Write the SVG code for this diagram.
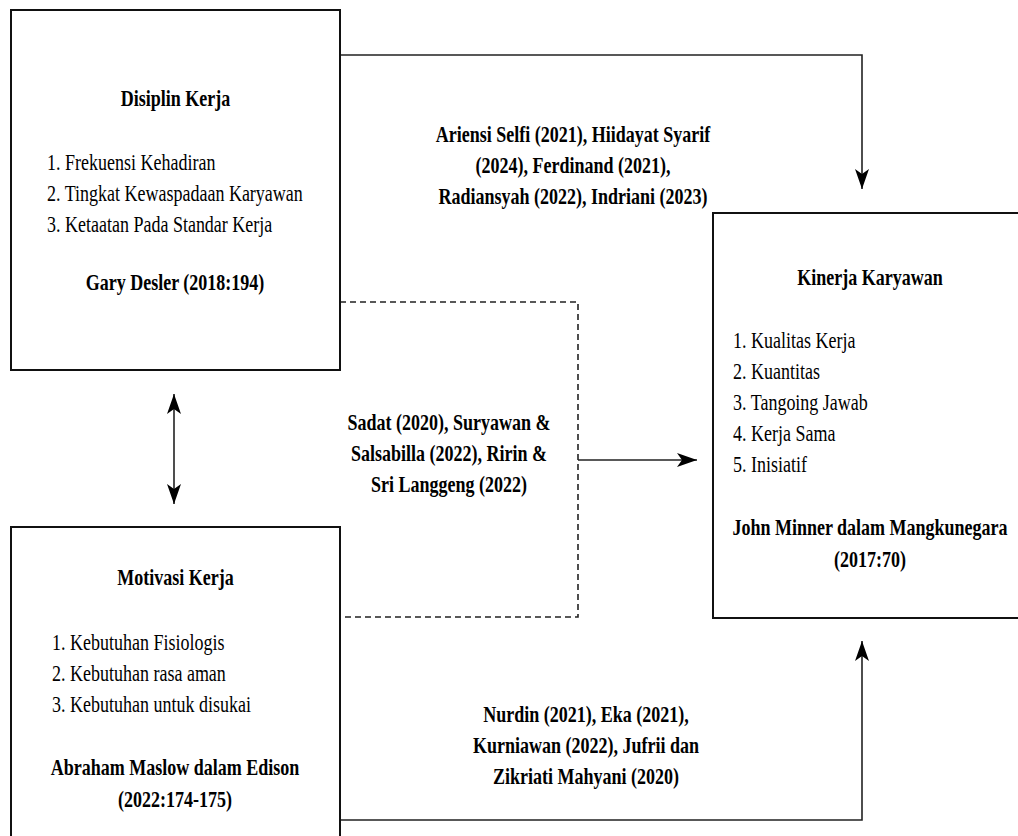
<svg xmlns="http://www.w3.org/2000/svg" width="1018" height="836" viewBox="0 0 1018 836">
  <style>
    .box { fill: #ffffff; stroke: #111111; stroke-width: 2; }
    .conn { fill: none; stroke: #222222; stroke-width: 1.6; }
    .dash { fill: none; stroke: #222222; stroke-width: 1.6; stroke-dasharray: 6 4; }
    text { font-family: "Liberation Serif", "Times New Roman", serif; font-size: 24px; fill: #000000; }
    .b { font-weight: bold; }
    .c { text-anchor: middle; }
  </style>
  <defs>
    <marker id="arr" markerUnits="userSpaceOnUse" markerWidth="24" markerHeight="18" viewBox="-22 -9 24 18" refX="0" refY="0" orient="auto-start-reverse">
      <path d="M 0 0 L -20 -7 L -15 0 L -20 7 Z" fill="#000000"/>
    </marker>
  </defs>
  <rect width="1018" height="836" fill="#ffffff"/>

  <g id="connectors">
    <path class="conn" d="M 340 55 H 862 V 189" marker-end="url(#arr)"/>
    <path class="conn" d="M 340 820 H 862 V 641" marker-end="url(#arr)"/>
    <path class="dash" d="M 340 302 H 578 V 617 H 340"/>
    <path class="conn" d="M 578 460 H 697" marker-end="url(#arr)"/>
    <path class="conn" d="M 174 394 V 504" marker-start="url(#arr)" marker-end="url(#arr)"/>
    <text class="b c" transform="translate(573,0) scale(0.75,1)"><tspan x="0" y="142">Ariensi Selfi (2021), Hiidayat Syarif</tspan><tspan x="0" y="173">(2024), Ferdinand (2021),</tspan><tspan x="0" y="204">Radiansyah (2022), Indriani (2023)</tspan></text>
    <text class="b c" transform="translate(449,0) scale(0.75,1)"><tspan x="0" y="430">Sadat (2020), Suryawan &amp;</tspan><tspan x="0" y="461">Salsabilla (2022), Ririn &amp;</tspan><tspan x="0" y="492">Sri Langgeng (2022)</tspan></text>
    <text class="b c" transform="translate(586,0) scale(0.75,1)"><tspan x="0" y="722">Nurdin (2021), Eka (2021),</tspan><tspan x="0" y="753">Kurniawan (2022), Jufrii dan</tspan><tspan x="0" y="784">Zikriati Mahyani (2020)</tspan></text>
  </g>

  <g id="disiplin-kerja">
    <rect class="box" x="11" y="10" width="329" height="360"/>
    <text class="b c" transform="translate(175.5,0) scale(0.75,1)"><tspan x="0" y="106">Disiplin Kerja</tspan></text>
    <text transform="translate(47,0) scale(0.75,1)"><tspan x="0" y="170">1. Frekuensi Kehadiran</tspan><tspan x="0" y="201">2. Tingkat Kewaspadaan Karyawan</tspan><tspan x="0" y="232">3. Ketaatan Pada Standar Kerja</tspan></text>
    <text class="b c" transform="translate(175,0) scale(0.75,1)"><tspan x="0" y="290">Gary Desler (2018:194)</tspan></text>
  </g>

  <g id="motivasi-kerja">
    <rect class="box" x="11" y="527" width="329" height="330"/>
    <text class="b c" transform="translate(175.5,0) scale(0.75,1)"><tspan x="0" y="585">Motivasi Kerja</tspan></text>
    <text transform="translate(52,0) scale(0.75,1)"><tspan x="0" y="650">1. Kebutuhan Fisiologis</tspan><tspan x="0" y="681">2. Kebutuhan rasa aman</tspan><tspan x="0" y="712">3. Kebutuhan untuk disukai</tspan></text>
    <text class="b c" transform="translate(175,0) scale(0.75,1)"><tspan x="0" y="775">Abraham Maslow dalam Edison</tspan><tspan x="0" y="807">(2022:174-175)</tspan></text>
  </g>

  <g id="kinerja-karyawan">
    <rect class="box" x="713" y="213" width="330" height="405"/>
    <text class="b c" transform="translate(870,0) scale(0.75,1)"><tspan x="0" y="285">Kinerja Karyawan</tspan></text>
    <text transform="translate(733,0) scale(0.75,1)"><tspan x="0" y="348">1. Kualitas Kerja</tspan><tspan x="0" y="379">2. Kuantitas</tspan><tspan x="0" y="410">3. Tangoing Jawab</tspan><tspan x="0" y="441">4. Kerja Sama</tspan><tspan x="0" y="472">5. Inisiatif</tspan></text>
    <text class="b c" transform="translate(870,0) scale(0.75,1)"><tspan x="0" y="535">John Minner dalam Mangkunegara</tspan><tspan x="0" y="567">(2017:70)</tspan></text>
  </g>
</svg>
